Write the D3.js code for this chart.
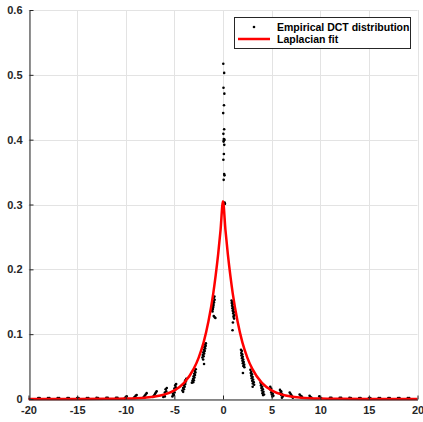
<!DOCTYPE html>
<html>
<head>
<meta charset="utf-8">
<script src="https://cdn.jsdelivr.net/npm/d3@7"></script>
<style>
  html, body { margin: 0; padding: 0; background: #fff; }
  svg { display: block; }
  text { font-family: "Liberation Sans", Arial, sans-serif; font-weight: bold; }
</style>
</head>
<body>
<svg width="423" height="422"></svg>
<script>
// tick labels
const xTicks = [-20, -15, -10, -5, 0, 5, 10, 15, 20];
const yTicks = [0, 0.1, 0.2, 0.3, 0.4, 0.5, 0.6];

// Laplacian fit, values
const fitX = [-20, -15, -12, -10, -8, -7, -6, -5, -4, -3, -2.5, -2, -1.5, -1, -0.75, -0.5, -0.25, 0,
              0.25, 0.5, 0.75, 1, 1.5, 2, 2.5, 3, 4, 5, 6, 7, 8, 10, 12, 15, 20];
const fitY = [0, 0, 0.0002, 0.0006, 0.0021, 0.0038, 0.0072, 0.0134, 0.025, 0.0468, 0.0639, 0.087, 0.1195, 0.163, 0.191, 0.223, 0.261, 0.305,
              0.261, 0.223, 0.191, 0.163, 0.1195, 0.087, 0.0639, 0.0468, 0.025, 0.0134, 0.0072, 0.0038, 0.0021, 0.0006, 0.0002, 0, 0];

// empirical DCT distribution (points)
const empX = [
  0.03, 0.12, 0.05, 0.14, 0.10, 0.02, 0.12, 0.04, 0.08, 0.15, 0.10, 0.06, 0.13, 0.09, 0.04, 0.12, 0.15, 0.07, 0.16, 0.20,
  -0.88, -0.95, -0.86, -0.99, -0.92, -1.03, -0.97, -1.06, -1.00, -1.10, -1.04, -1.13, -1.08, -0.95, -0.85, -0.78,
  0.88, 0.95, 0.90, 1.00, 0.93, 1.04, 0.96, 1.08, 1.00, 1.12, 1.05, 1.15, 1.08, 1.14, 1.02, 0.98,
  -1.76, -1.84, -1.78, -1.90, -1.83, -1.96, -1.88, -2.02, -1.94, -2.08, -1.99, -2.12, -2.04, -1.95,
  1.85, 1.93, 1.88, 1.98, 1.90, 2.03, 1.95, 2.08, 2.00, 2.13, 2.04, 2.18, 2.09, 2.20, 2.05,
  -2.80, -2.90, -2.84, -2.96, -2.88, -3.02, -2.94, -3.08, -3.00, -3.14, -3.06, -3.20,
  2.82, 2.92, 2.86, 2.98, 2.90, 3.04, 2.95, 3.10, 3.00, 3.16, 3.06, 3.20, 3.05,
  -3.78, -3.88, -3.82, -3.95, -3.88, -4.02, -3.94, -4.10, -4.02, -4.18, -4.10,
  3.86, 3.96, 3.90, 4.03, 3.95, 4.10, 4.00, 4.16, 4.06, 4.22, 4.12,
  -4.82, -4.92, -4.86, -5.00, -4.92, -5.08, -4.98, -5.15, -5.05, -5.20,
  4.86, 4.96, 4.90, 5.05, 4.96, 5.12, 5.02, 5.18, 5.08,
  -5.78, -5.90, -5.84, -5.98, -5.90, -6.06, -5.98, -6.14,
  5.86, 5.98, 5.92, 6.06, 5.98, 6.14, 6.06,
  -6.82, -6.90, -6.98, -7.06, -7.14, -7.20,
  6.86, 6.94, 7.02, 7.10, 7.18,
  -7.85, -7.95, -8.05, -8.15,
  7.88, 7.98, 8.08, 8.18,
  -8.88, -8.98, -9.08, -9.16,
  8.90, 9.00, 9.10,
  -9.90, -10.00, -10.10,
  9.90, 10.00, 10.10,
  -11.0, -10.85, -12.0, -11.85, -13.0, -12.85, -14.0, -13.85, -15.0, -14.85, -16.0, -15.85, -17.0, -16.85, -18.0, -17.85, -19.0, -18.85,
  11.0, 11.15, 12.0, 12.15, 13.0, 13.15, 14.0, 14.15, 15.0, 15.15, 16.0, 16.15, 17.0, 17.15, 18.0, 18.15, 19.0, 19.15
];
const empY = [
  0.517, 0.503, 0.480, 0.471, 0.453, 0.441, 0.416, 0.409, 0.401, 0.400, 0.399, 0.397, 0.392, 0.378, 0.369, 0.347, 0.345, 0.338, 0.303, 0.301,
  0.158, 0.156, 0.153, 0.151, 0.149, 0.147, 0.145, 0.144, 0.142, 0.140, 0.139, 0.137, 0.135, 0.128, 0.126, 0.125,
  0.152, 0.150, 0.148, 0.146, 0.144, 0.142, 0.140, 0.138, 0.136, 0.134, 0.132, 0.129, 0.127, 0.124, 0.118, 0.106,
  0.086, 0.084, 0.082, 0.080, 0.078, 0.076, 0.074, 0.072, 0.070, 0.068, 0.066, 0.064, 0.061, 0.054,
  0.076, 0.074, 0.071, 0.069, 0.067, 0.065, 0.063, 0.061, 0.059, 0.057, 0.055, 0.053, 0.051, 0.049, 0.040,
  0.046, 0.043, 0.041, 0.039, 0.037, 0.035, 0.033, 0.031, 0.029, 0.028, 0.026, 0.025,
  0.045, 0.042, 0.040, 0.038, 0.036, 0.034, 0.032, 0.030, 0.028, 0.026, 0.024, 0.022, 0.019,
  0.031, 0.029, 0.027, 0.025, 0.023, 0.021, 0.019, 0.017, 0.015, 0.013, 0.011,
  0.025, 0.023, 0.021, 0.019, 0.017, 0.015, 0.013, 0.011, 0.009, 0.007, 0.006,
  0.023, 0.021, 0.018, 0.016, 0.014, 0.012, 0.010, 0.008, 0.006, 0.004,
  0.019, 0.016, 0.014, 0.012, 0.010, 0.008, 0.007, 0.005, 0.004,
  0.017, 0.015, 0.012, 0.010, 0.008, 0.006, 0.004, 0.003,
  0.014, 0.012, 0.010, 0.008, 0.006, 0.004, 0.002,
  0.012, 0.010, 0.008, 0.006, 0.004, 0.003,
  0.010, 0.008, 0.006, 0.004, 0.002,
  0.009, 0.007, 0.005, 0.003,
  0.007, 0.005, 0.004, 0.002,
  0.006, 0.005, 0.003, 0.002,
  0.005, 0.003, 0.002,
  0.004, 0.003, 0.001,
  0.004, 0.002, 0.001,
  0.002, 0.002, 0.002, 0.002, 0.002, 0.0015, 0.0015, 0.0015, 0.0015, 0.0015, 0.0015, 0.0015, 0.0015, 0.0015, 0.0015, 0.0015, 0.0015, 0.0015,
  0.002, 0.002, 0.002, 0.002, 0.002, 0.0015, 0.0015, 0.0015, 0.0015, 0.0015, 0.0015, 0.0015, 0.0015, 0.0015, 0.0015, 0.0015, 0.0015, 0.0015
];

const legendLabels = ["Empirical DCT distribution", "Laplacian fit"];

var svg = d3.select("svg"),
    margin = {left: 28.5, right: 5.5, top: 10, bottom: 23};
const width = +svg.attr("width"), height = +svg.attr("height");

const x = d3.scaleLinear().domain([-20, 20]).range([margin.left, width - margin.right]);
const y = d3.scaleLinear().domain([0, 0.6]).range([height - margin.bottom, margin.top]);

const axisColor = "#262626";

// grid
const grid = svg.append("g").attr("stroke", "#e3e3e3").attr("stroke-width", 1);
grid.selectAll(".gx").data(xTicks).join("line")
  .attr("x1", d => Math.round(x(d)) + 0.5).attr("x2", d => Math.round(x(d)) + 0.5)
  .attr("y1", y(0)).attr("y2", y(0.6));
grid.selectAll(".gy").data(yTicks).join("line")
  .attr("y1", d => Math.round(y(d)) + 0.5).attr("y2", d => Math.round(y(d)) + 0.5)
  .attr("x1", x(-20)).attr("x2", x(20));

// empirical points
const pts = d3.zip(empX, empY);
svg.append("g")
  .selectAll("circle")
  .data(pts)
  .join("circle")
    .attr("cx", d => x(d[0]))
    .attr("cy", d => y(d[1]))
    .attr("r", 1.3)
    .attr("fill", "#000");

// fit line
const line = d3.line()
  .x((d, i) => x(fitX[i]))
  .y(d => y(d))
  .curve(d3.curveMonotoneX);
svg.append("path")
  .datum(fitY)
  .attr("fill", "none")
  .attr("stroke", "#ff0000")
  .attr("stroke-width", 2.5)
  .attr("stroke-linejoin", "round")
  .attr("d", line);

// axes
const xAxis = svg.append("g")
  .attr("transform", `translate(0,${Math.round(y(0)) + 0.5})`)
  .call(d3.axisBottom(x).tickValues(xTicks).tickSizeInner(-4).tickSizeOuter(0).tickPadding(7).tickFormat(d => String(d)));
const yAxis = svg.append("g")
  .attr("transform", `translate(${Math.round(x(-20)) + 0.5},0)`)
  .call(d3.axisLeft(y).tickValues(yTicks).tickSizeInner(-4).tickSizeOuter(0).tickPadding(7).tickFormat(d => d === 0 ? "0" : d3.format(".1f")(d)));

[xAxis, yAxis].forEach(g => {
  g.select(".domain").attr("stroke", axisColor);
  g.selectAll(".tick line").attr("stroke", axisColor);
  g.selectAll(".tick text").attr("fill", axisColor).attr("font-size", 11)
    .attr("font-family", "'Liberation Sans', Arial, sans-serif").attr("font-weight", "bold");
});

// legend
const lg = svg.append("g");
lg.append("rect")
  .attr("x", 234.5).attr("y", 17.5).attr("width", 176).attr("height", 31)
  .attr("fill", "#fff").attr("stroke", axisColor).attr("stroke-width", 1);
lg.append("circle").attr("cx", 254).attr("cy", 27).attr("r", 1.3).attr("fill", "#000");
lg.append("line").attr("x1", 238).attr("x2", 270).attr("y1", 39).attr("y2", 39)
  .attr("stroke", "#ff0000").attr("stroke-width", 2.5);
lg.selectAll("text").data(legendLabels).join("text")
  .attr("x", 277).attr("y", (d, i) => 27 + i * 12)
  .attr("dy", "0.35em")
  .attr("font-size", 10.5)
  .attr("fill", "#000")
  .text(d => d);
</script>
</body>
</html>
